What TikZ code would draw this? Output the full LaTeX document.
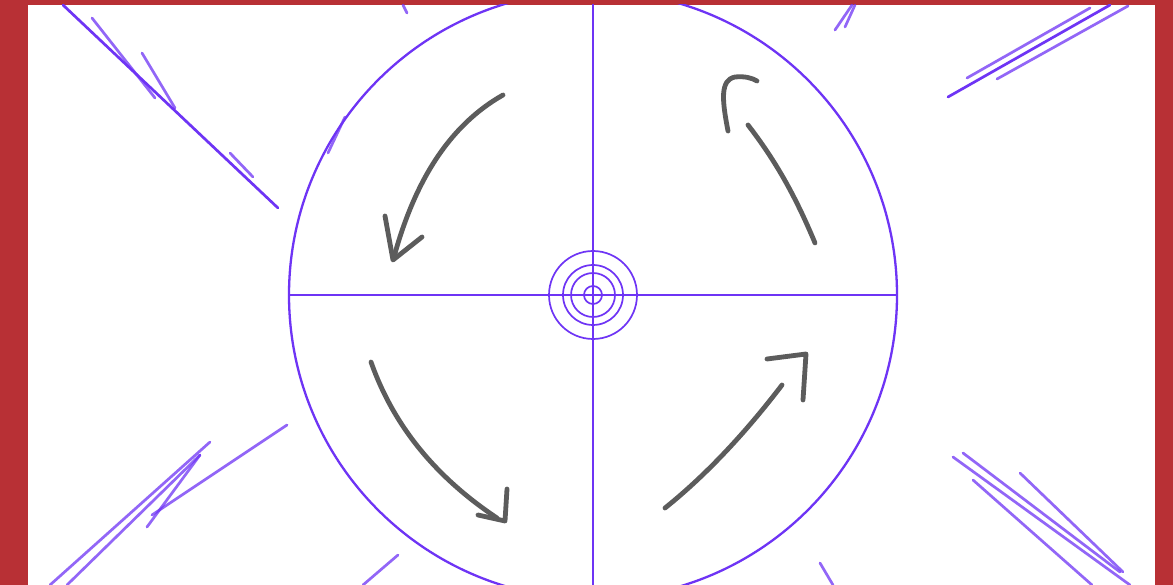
\documentclass[tikz,border=0pt]{standalone}
\usepackage{tikz}
\usetikzlibrary{arrows.meta}
\definecolor{frame}{RGB}{184,48,53}
\definecolor{ink}{RGB}{110,52,245}
\definecolor{pencil}{RGB}{92,92,92}
\tikzset{
  rim/.style={draw=ink, line width=2.3pt},
  hair/.style={draw=ink, line width=1.8pt},
  ring/.style={draw=ink, line width=1.7pt},
  scratch/.style={draw=ink, line width=2.7pt, opacity=0.75, line cap=round},
  swirl/.style={draw=pencil, line width=4.8pt, line cap=round, line join=round}
}

\begin{document}
\begin{tikzpicture}[x=1pt,y=-1pt]
  \useasboundingbox (0,0) rectangle (1173,585);
  \fill[frame] (0,0) rectangle (1173,585);
  \fill[white] (28,5) rectangle (1155,585);
  \begin{scope}
    \clip (28,5) rectangle (1155,585);
    \coordinate (hub) at (593,295);
    \draw[rim] (hub) circle[radius=304];
    \draw[hair] (289,295) -- (898,295);
    \draw[hair] (593,-10) -- (593,600);
    \foreach \r in {44,30,22,9}
      \draw[ring] (hub) circle[radius=\r];
    % pencil arrows
    \draw[swirl] (503,95) .. controls (450,125) and (415,180) .. (394,257);
    \draw[swirl] (385,216) -- (393,260) -- (422,237);
    \draw[swirl] (371,362) .. controls (395,430) and (440,480) .. (497,518);
    \draw[swirl] (507,489) -- (505,521) -- (478,515);
    \draw[swirl] (665,508) .. controls (700,480) and (740,440) .. (782,385);
    \draw[swirl] (767,359) -- (806,354) -- (803,400);
    \draw[swirl] (815,243) .. controls (795,195) and (775,160) .. (748,125);
    \draw[swirl] (728,131) .. controls (722,100) and (720,80) .. (735,77) .. controls (745,76) and (752,78) .. (757,81);
    % scratchy rays
    \draw[scratch, opacity=1] (63,5) -- (278,208);
    \draw[scratch] (92,18) -- (155,98);
    \draw[scratch] (142,53) -- (175,108);
    \draw[scratch] (230,153) -- (253,177);
    \draw[scratch] (345,117) -- (328,153);
    \draw[scratch] (403,5) -- (407,13);
    \draw[scratch] (852,5) -- (835,30);
    \draw[scratch] (855,5) -- (845,27);
    \draw[scratch, opacity=1] (1110,5) -- (948,97);
    \draw[scratch] (1090,8) -- (967,78);
    \draw[scratch] (1128,6) -- (997,79);
    \draw[scratch] (210,442) -- (50,585);
    \draw[scratch] (200,455) -- (67,585);
    \draw[scratch] (200,455) -- (147,527);
    \draw[scratch] (152,515) -- (287,425);
    \draw[scratch] (398,555) -- (363,585);
    \draw[scratch] (953,457) -- (1130,585);
    \draw[scratch] (963,453) -- (1120,572);
    \draw[scratch] (973,480) -- (1092,585);
    \draw[scratch] (1020,473) -- (1123,572);
    \draw[scratch] (820,563) -- (833,585);
  \end{scope}
\end{tikzpicture}
\end{document}
